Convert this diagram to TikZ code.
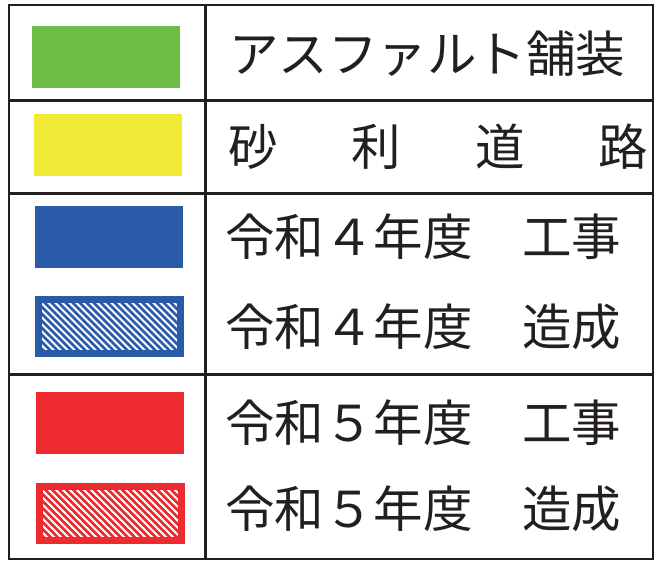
\documentclass[tikz,border=0pt]{standalone}
\usepackage{fontspec}
\newfontfamily\jp{Noto Sans CJK JP}
\definecolor{ink}{HTML}{231F20}
\definecolor{cgreen}{HTML}{6EBE45}
\definecolor{cyellow}{HTML}{F0E935}
\definecolor{cblue}{HTML}{2A5BA8}
\definecolor{cred}{HTML}{EC2A2F}
\tikzset{
  swatch/.style={inner sep=0pt, minimum width=148pt, minimum height=62pt, fill=#1},
  hatchbox/.style={inner sep=0pt, minimum width=142pt, minimum height=54pt,
    fill=white, draw=#1, line width=7pt,
    path picture={
      \foreach \i in {-70,-63,...,150}{
        \draw[#1, line width=2.5pt] ([xshift=\i pt, yshift=10pt]path picture bounding box.north west) -- ++(90pt,-90pt);
      }
    }},
  label/.style={inner sep=0pt, anchor=west, text=ink, font=\jp\fontsize{49.5pt}{49.5pt}\selectfont},
  rule/.style={draw=ink, line width=3pt}
}
\begin{document}
\begin{tikzpicture}[x=1pt,y=-1pt]
\useasboundingbox[fill=white] (0,0) rectangle (658,563);
% swatches
\node[swatch=cgreen] (s1) at (106,57) {};
\node[swatch=cyellow] (s2) at (107.5,145) {};
\node[swatch=cblue] (s3) at (109,237) {};
\node[hatchbox=cblue] (s4) at (109.5,326.5) {};
\node[swatch=cred] (s5) at (110,423) {};
\node[hatchbox=cred] (s6) at (110,513.5) {};
% labels
\node[label] (t1) at (229,54) {アスファルト舗装};
\node[label] (t2) at (228,147) {砂\hspace{74pt}利\hspace{74pt}道\hspace{74pt}路};
\node[label] (t3) at (225,237) {令和４年度　工事};
\node[label] (t4) at (225,327) {令和４年度　造成};
\node[label] (t5) at (225,423) {令和５年度　工事};
\node[label] (t6) at (225,509) {令和５年度　造成};
% table
\draw[draw=ink, line width=2.2pt] (9,5) rectangle (653,559);
\draw[rule] (205,5) -- (205,559);
\draw[rule] (9,100) -- (653,100);
\draw[rule] (9,193) -- (653,193);
\draw[rule] (9,374) -- (653,374);
\end{tikzpicture}
\end{document}
